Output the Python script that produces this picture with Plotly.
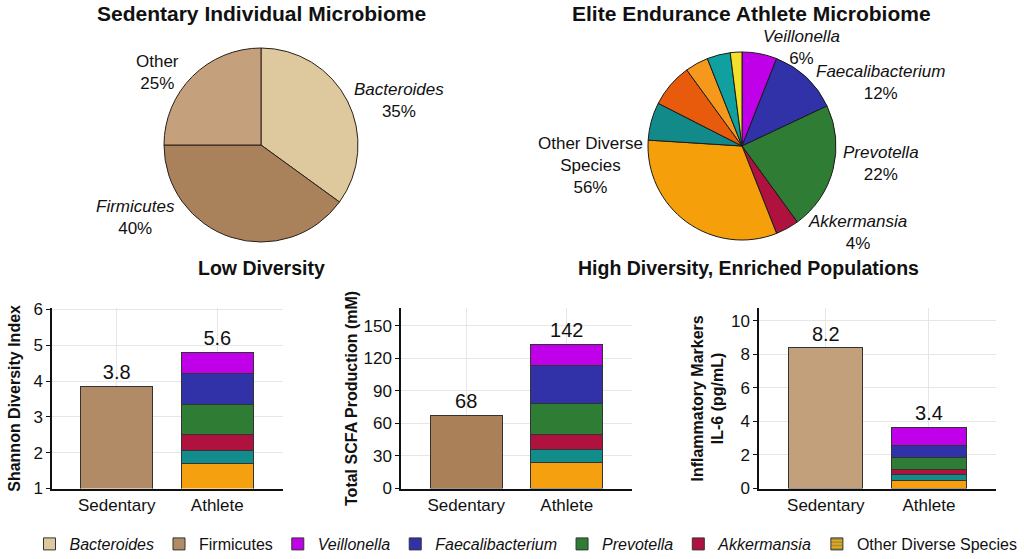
import plotly.graph_objects as go

W, H = 1024, 559

# ---------------- data ----------------
sed_pie_labels = ["Bacteroides", "Firmicutes", "Other"]
sed_pie_values = [35, 40, 25]
sed_pie_colors = ["#DEC89E", "#A9825B", "#C5A07D"]

ath_pie_labels = ["Veillonella", "Faecalibacterium", "Prevotella", "Akkermansia",
                  "Other species 1", "Other species 2", "Other species 3",
                  "Other species 4", "Other species 5", "Other species 6"]
ath_pie_values = [6, 12, 22, 4, 32, 6.5, 7.5, 4, 4, 2]
ath_pie_colors = ["#C000E8", "#3232A8", "#2F7D35", "#B0123F", "#F5A00A",
                  "#128A8A", "#E85A0C", "#F5981C", "#11A0A0", "#F2E02A"]

categories = ["Sedentary", "Athlete"]
segment_names = ["Other Diverse Species (a)", "Other Diverse Species (b)",
                 "Akkermansia", "Prevotella", "Faecalibacterium", "Veillonella"]
segment_colors = ["#F5A00F", "#138C8C", "#B0123F", "#2F7D35", "#3232A8", "#C000E8"]

shannon_sedentary = 3.85
shannon_athlete = [1.7, 0.35, 0.45, 0.85, 0.85, 0.6]
shannon_labels = ["3.8", "5.6"]

scfa_sedentary = 67.7
scfa_athlete = [23.5, 12, 14.5, 28, 35, 20]
scfa_labels = ["68", "142"]

il6_sedentary = 8.4
il6_athlete = [0.48, 0.34, 0.30, 0.71, 0.74, 1.08]
il6_labels = ["8.2", "3.4"]

firmicutes_bar_colors = ["#B08B65", "#A98058", "#C2A07C"]

legend_names = ["<i>Bacteroides</i>", "Firmicutes", "<i>Veillonella</i>",
                "<i>Faecalibacterium</i>", "<i>Prevotella</i>", "<i>Akkermansia</i>",
                "Other Diverse Species"]

FONT = "Liberation Sans, Arial, Helvetica, sans-serif"


def px(x):
    return x / W


def py(y):
    return 1 - y / H


fig = go.Figure()

# ---------------- pies ----------------
cx, cy, r = 261, 145, 97
fig.add_trace(go.Pie(
    labels=sed_pie_labels, values=sed_pie_values, sort=False,
    direction="clockwise", rotation=0, textinfo="none", hoverinfo="label+percent",
    marker=dict(colors=sed_pie_colors, line=dict(color="#2a2018", width=1)),
    domain=dict(x=[px(cx - r), px(cx + r)], y=[py(cy + r), py(cy - r)]),
    showlegend=False))

cx2, cy2, r2 = 742, 146, 94
fig.add_trace(go.Pie(
    labels=ath_pie_labels, values=ath_pie_values, sort=False,
    direction="clockwise", rotation=0, textinfo="none", hoverinfo="label+percent",
    marker=dict(colors=ath_pie_colors, line=dict(color="#1a1a1a", width=1)),
    domain=dict(x=[px(cx2 - r2), px(cx2 + r2)], y=[py(cy2 + r2), py(cy2 - r2)]),
    showlegend=False))

# ---------------- legend-only traces ----------------
fig.add_trace(go.Bar(x=[None], y=[None], name=legend_names[0], legendrank=1,
                     marker=dict(color=sed_pie_colors[0], line=dict(color="#333", width=1)),
                     xaxis="x", yaxis="y"))
fig.add_trace(go.Bar(x=[None], y=[None], name=legend_names[6], legendrank=7,
                     marker=dict(color="#F5A00F", line=dict(color="#333", width=1),
                                 pattern=dict(shape="-", fgcolor="#138C8C", bgcolor="#F5A00F",
                                              size=4, solidity=0.45)),
                     xaxis="x", yaxis="y"))

# ---------------- bars ----------------
legend_for_segment = {"Akkermansia": (legend_names[5], 6), "Prevotella": (legend_names[4], 5),
                      "Faecalibacterium": (legend_names[3], 4), "Veillonella": (legend_names[2], 3)}

charts = [
    (shannon_sedentary, shannon_athlete, shannon_labels, "x", "y"),
    (scfa_sedentary, scfa_athlete, scfa_labels, "x2", "y2"),
    (il6_sedentary, il6_athlete, il6_labels, "x3", "y3"),
]

for ci, (sed, ath, labs, xa, ya) in enumerate(charts):
    first = ci == 0
    fig.add_trace(go.Bar(
        x=[categories[0]], y=[sed], name=legend_names[1], legendrank=2,
        showlegend=first, legendgroup="firm",
        marker=dict(color=firmicutes_bar_colors[ci], line=dict(color="#333", width=1)),
        text=[labs[0]], textposition="outside", cliponaxis=False,
        textfont=dict(size=20, color="#111"),
        xaxis=xa, yaxis=ya))
    for si, (nm, col, val) in enumerate(zip(segment_names, segment_colors, ath)):
        is_top = si == len(ath) - 1
        lg = legend_for_segment.get(nm)
        fig.add_trace(go.Bar(
            x=[categories[1]], y=[val],
            name=lg[0] if lg else nm, legendrank=lg[1] if lg else 99,
            showlegend=bool(lg) and first, legendgroup=nm,
            marker=dict(color=col, line=dict(color="#333", width=1)),
            text=[labs[1]] if is_top else None,
            textposition="outside" if is_top else "none",
            cliponaxis=False, textfont=dict(size=20, color="#111"),
            xaxis=xa, yaxis=ya))

# ---------------- axes ----------------
ytop, ybot = 308.3, 488.5
xdoms = [(52, 283), (401, 632), (759, 996)]
yranges = [[1, 6.03], [0, 166], [0, 10.75]]
dticks = [1, 30, 2]
ytitles = ["<b>Shannon Diversity Index</b>", "<b>Total SCFA Production (mM)</b>",
           "<b>Inflammatory Markers<br>IL-6 (pg/mL)</b>"]
standoffs = [9, 2, 3]
xranges = [[-0.643, 1.653], [-0.649, 1.649], [-0.648, 1.65]]

layout_axes = {}
for i in range(3):
    sx = "" if i == 0 else str(i + 1)
    layout_axes["xaxis" + sx] = dict(
        domain=[px(xdoms[i][0]), px(xdoms[i][1])], anchor="y" + sx,
        type="category", range=xranges[i], showgrid=True, gridcolor="#e6e6e6",
        showline=True, linecolor="#111", linewidth=1.5, ticks="",
        tickfont=dict(size=17, color="#111"), fixedrange=True)
    layout_axes["yaxis" + sx] = dict(
        domain=[py(ybot), py(ytop)], anchor="x" + sx, range=yranges[i], dtick=dticks[i],
        tick0=0, showgrid=True, gridcolor="#e6e6e6", zeroline=False,
        showline=True, linecolor="#111", linewidth=1.5, ticks="outside", ticklen=4,
        tickcolor="#111", tickfont=dict(size=17, color="#111"),
        title=dict(text=ytitles[i], font=dict(size=16, color="#111"), standoff=standoffs[i]),
        fixedrange=True)

# ---------------- annotations ----------------
annotations = []


def ann(text, x, y, size=17, **kw):
    annotations.append(dict(text=text, x=px(x), y=py(y), xref="paper", yref="paper",
                            showarrow=False, font=dict(size=size, color="#111", family=FONT),
                            xanchor="center", yanchor="middle", **kw))


ann("<b>Sedentary Individual Microbiome</b>", 261, 13, size=21)
ann("<b>Elite Endurance Athlete Microbiome</b>", 751, 13, size=21)
ann("<b>Low Diversity</b>", 261, 268, size=19.5)
ann("<b>High Diversity, Enriched Populations</b>", 748, 268, size=19.5)

sed_total = sum(sed_pie_values)
sed_pct = [round(100 * v / sed_total) for v in sed_pie_values]
ann(f"<i>{sed_pie_labels[0]}</i><br>{sed_pct[0]}%", 399, 100)
ann(f"<i>{sed_pie_labels[1]}</i><br>{sed_pct[1]}%", 135, 217)
ann(f"{sed_pie_labels[2]}<br>{sed_pct[2]}%", 157, 73)

ath_total = sum(ath_pie_values)
ath_pct = [round(100 * v / ath_total) for v in ath_pie_values[:4]]
other_pct = round(100 * sum(ath_pie_values[4:]) / ath_total)
ann(f"<i>{ath_pie_labels[0]}</i><br>{ath_pct[0]}%", 801, 47)
ann(f"<i>{ath_pie_labels[1]}</i><br>{ath_pct[1]}%", 880, 83)
ann(f"<i>{ath_pie_labels[2]}</i><br>{ath_pct[2]}%", 881, 163)
ann(f"<i>{ath_pie_labels[3]}</i><br>{ath_pct[3]}%", 857, 232)
ann(f"Other Diverse<br>Species<br>{other_pct}%", 590, 165)

fig.update_layout(
    width=W, height=H, autosize=False,
    margin=dict(l=0, r=0, t=0, b=0, autoexpand=False),
    paper_bgcolor="white", plot_bgcolor="white",
    font=dict(family=FONT, color="#111", size=17),
    barmode="stack", bargap=0.28,
    showlegend=True,
    legend=dict(orientation="h", x=px(526), xanchor="center", y=py(544), yanchor="middle",
                font=dict(size=16, color="#111"), bgcolor="rgba(0,0,0,0)",
                traceorder="normal", itemclick=False, itemdoubleclick=False),
    annotations=annotations,
    **layout_axes,
)

fig.write_html("out.html", config={"displayModeBar": False})
